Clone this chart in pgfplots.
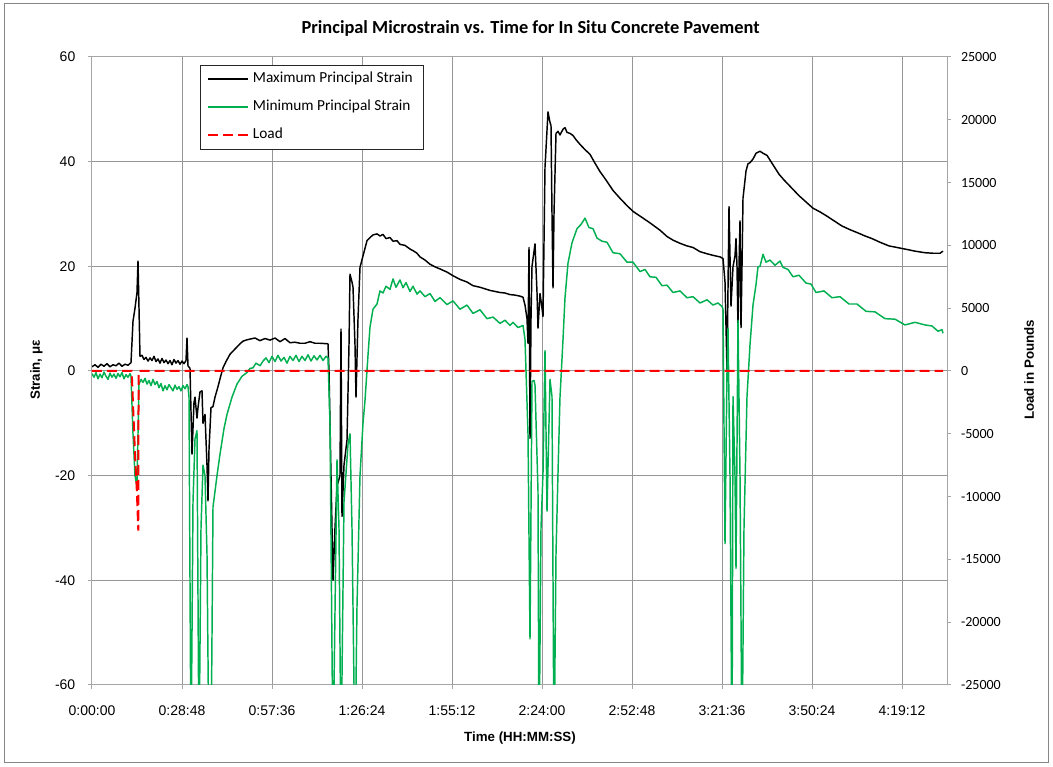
\documentclass[border=0pt]{standalone}
\usepackage{fontspec}
\setmainfont{Carlito}
\newfontfamily\arialf{Liberation Sans}
\usepackage{pgfplots}
\pgfplotsset{compat=1.18}
\definecolor{gridc}{RGB}{150,150,150}
\definecolor{axc}{RGB}{165,165,165}
\definecolor{exgreen}{RGB}{0,176,80}
\definecolor{framec}{RGB}{134,134,134}

\pgfplotstableread{
x y
0 0.8
0.96 1.2
1.92 0.7
2.88 1.3
3.84 0.9
4.8 1.4
5.76 0.8
6.72 1.2
7.68 1.0
8.64 1.5
9.6 0.9
10.56 1.3
11.52 1.1
12.48 1.6
13.12 9.5
13.76 12
14.4 15
14.72 21
15.04 12
15.36 2.8
16.0 3.0
16.64 2.2
17.28 2.6
17.92 1.9
18.56 2.5
19.2 2.0
19.84 2.8
20.48 1.8
21.12 2.3
21.76 1.5
22.4 2.4
23.04 1.6
23.68 2.1
24.32 1.4
24.96 2.0
25.6 1.2
26.24 2.2
26.88 1.5
27.52 2.0
28.16 1.3
28.8 1.9
29.44 1.4
30.08 2.0
30.4 6.3
30.72 1.0
31.36 0.5
32.0 -15.9
32.64 -6
32.96 -5
33.6 -9
33.92 -7
34.56 -4
35.2 -3.8
35.52 -10
36.16 -8.3
36.8 -18
37.12 -24.8
37.44 -15
38.08 -7
38.72 -6.8
39.36 -5
40.32 -3
40.96 -1.5
41.92 0.6
42.88 1.8
44.16 3.2
45.12 3.8
46.08 4.4
47.36 5.2
48.32 5.7
49.28 5.9
50.56 6.1
52.16 6.3
53.76 5.8
55.36 6.2
56.96 5.9
58.56 6.3
60.16 5.6
61.76 6.2
63.36 5.4
64.96 5.5
66.56 5.3
68.16 5.3
69.76 5.6
71.36 5.3
72.96 5.3
75.52 5.2
75.84 0
76.48 -20
77.12 -40
77.76 -30
78.4 -22
79.36 -20
79.68 8
80.0 -27.8
80.64 -18
81.6 -13.2
82.24 5
82.56 18.5
83.2 17
83.52 16
84.16 5
84.48 -5
85.12 10
85.76 19.8
86.72 22
88.0 24.9
88.96 25.5
89.92 26
91.2 26.2
92.16 25.8
93.12 26.1
94.08 25.3
95.36 25.5
96.32 24.8
97.6 24.9
98.56 24.2
100.16 24.0
101.76 23.3
102.72 23
104.0 22.5
104.96 21.8
106.56 21.2
108.16 20.4
109.76 19.9
111.36 19.5
113.6 18.9
115.52 18.2
117.76 17.5
120.0 17.0
121.92 16.3
124.16 16.0
125.76 15.7
127.36 15.4
128.96 15.2
130.56 15.0
132.16 14.9
133.76 14.6
135.36 14.5
136.96 14.3
137.92 14.1
138.56 12.6
139.2 10
139.52 5.3
139.84 23.6
140.16 -12.9
140.48 10
140.8 20
141.12 21.4
141.76 24.3
142.4 15
142.72 8.2
143.36 14.8
144.0 12
144.32 10.4
144.96 38.9
145.92 49.5
146.56 47.5
146.88 46.9
147.2 30
147.52 15.9
147.84 30
148.48 45.4
149.12 45.8
149.76 45.1
150.72 46.2
151.36 46.5
152.0 45.6
152.96 45.4
153.92 45.0
154.88 44.2
156.16 43.3
157.76 42.3
159.36 41.4
160.96 39.7
162.56 38.1
164.48 36.5
166.72 34.5
168.96 33.0
171.2 31.6
173.12 30.5
175.36 29.6
178.56 28.3
181.76 26.9
184.0 25.7
185.92 25
188.16 24.4
190.4 23.9
192.32 23.6
194.56 22.8
196.8 22.4
198.72 22.1
200.96 21.8
201.92 21.5
202.56 17
203.2 0.2
203.84 31.4
204.48 12.4
205.12 19.9
205.76 22
206.08 25.3
206.4 20
206.72 8.2
207.04 20
207.36 28.7
207.68 8.3
208.0 20
208.32 33
209.28 38.2
209.92 39.6
210.56 39.8
211.52 40.5
212.48 41.6
213.76 42.0
214.72 41.6
216.0 41.2
216.96 40.3
218.56 38.8
219.84 37.6
221.44 36.5
223.04 35.5
224.64 34.5
226.24 33.5
228.48 32.3
230.72 31.1
232.96 30.4
234.88 29.7
237.44 28.7
240.0 27.7
242.56 27.0
245.44 26.3
247.36 25.8
249.6 25.3
252.16 24.6
255.04 23.9
257.6 23.6
260.16 23.3
263.36 22.9
266.56 22.6
269.12 22.5
271.36 22.5
272.32 22.9
}\maxdata

\pgfplotstableread{
x y
0 -0.5
0.64 -1.2
1.28 -0.3
1.92 -1.5
2.56 -0.6
3.2 -1.3
3.84 -0.2
4.48 -1.0
5.12 -1.6
5.76 -0.4
6.4 -1.2
7.04 -0.6
7.68 -1.4
8.32 -0.5
8.96 -1.1
9.6 -0.3
10.24 -1.5
10.88 -0.7
11.52 -1.2
12.16 -0.5
12.48 -1.0
13.12 -12
13.76 -20
14.4 -22
14.72 -12
15.04 -2.5
15.68 -1.6
16.32 -2.2
16.96 -1.4
17.6 -2.5
18.24 -1.8
18.88 -2.8
19.52 -1.6
20.16 -2.6
20.8 -2.0
21.44 -3.2
22.08 -2.4
22.72 -3.8
23.36 -2.8
24.0 -3.6
24.64 -2.6
25.28 -3.2
25.92 -3.8
26.56 -2.7
27.2 -3.5
27.84 -3.0
28.48 -3.8
29.12 -2.8
29.76 -3.4
30.4 -2.6
30.72 -3
31.04 -5
31.68 -75
32.32 -25
32.96 -13
33.6 -11.4
34.24 -75
34.88 -30
35.52 -18
36.16 -20
36.8 -35
37.44 -75
38.08 -75
38.72 -26
40.0 -20
40.96 -15.9
42.24 -11
43.2 -8.3
44.8 -5
46.4 -2.5
48.0 -1.0
49.6 -0.3
50.56 0.5
51.52 0.6
52.48 1.5
53.76 1.0
54.72 1.9
55.68 2.5
56.64 1.6
57.6 2.8
58.56 1.8
59.52 3.0
60.48 1.9
61.44 2.6
62.4 1.5
63.36 2.8
64.32 2.0
65.28 3.0
66.24 1.8
67.2 2.8
68.16 2.0
69.12 3.1
70.08 1.9
71.04 2.9
72.0 2.1
72.96 3.0
73.92 2.0
74.88 2.8
75.52 2.5
76.16 -10
77.12 -75
78.4 -17
79.04 -30
79.68 -75
80.64 -25
81.28 -19.6
81.92 -14
82.56 -12
83.2 -30
84.16 -75
84.8 -45
85.76 -20
86.72 -10
87.36 -5.6
88.32 3
88.96 8.4
89.92 11.8
91.2 12.8
92.16 15.3
93.12 14.9
94.08 16.2
95.36 15.6
96.32 17.6
97.28 16.0
98.56 17.4
99.52 15.9
100.48 16.9
101.76 15.2
102.72 16.2
104.0 14.7
104.96 15.3
106.56 14.2
108.16 14.8
109.76 13.3
111.36 14.0
113.6 12.7
115.52 13.4
117.76 11.8
120.0 12.6
121.92 11.0
124.16 11.7
126.4 10.0
128.32 10.3
130.56 9.1
132.16 9.7
133.76 8.7
134.72 9.3
136.32 8.3
137.92 8.7
138.56 6
139.52 -12
140.16 -51.2
140.8 -2
141.44 -1.8
141.76 -2.7
142.72 -23
143.04 -75
143.68 -30
144.32 -19.5
144.96 3.9
145.6 -26.8
146.56 -1.6
147.2 -4.9
147.84 -75
148.48 -35
149.12 -19.5
149.76 -5
150.72 6
151.36 14
152.32 20.6
153.6 24.5
155.2 27.2
156.48 28.0
157.76 29.2
159.04 27.4
160.32 27.2
161.6 25.4
163.2 24.8
164.8 24.6
166.72 22.6
168.96 22.4
171.2 20.8
173.12 20.8
175.36 19.0
176.96 19.4
178.56 18.0
180.48 17.9
182.4 16.3
184.0 16.4
185.92 15.0
188.16 15.3
190.4 14.0
192.32 14.2
194.56 13.0
196.8 13.6
198.72 12.6
200.32 13.0
201.6 12.3
201.92 11.9
202.56 -33
203.2 0
203.52 8.2
204.16 -20
204.8 -75
205.12 -4.9
205.76 -20
206.08 -37.7
206.72 9.7
207.36 -20
208.0 -75
208.64 -30
209.6 -4.9
210.56 5
211.52 12.6
212.48 16.5
213.12 19.9
213.76 20
214.72 22.3
215.68 20.8
216.96 21.2
218.56 20.2
220.16 21.0
221.12 19.8
222.72 19.4
224.32 18.0
226.24 18.3
228.48 16.8
230.08 16.6
231.68 15.0
234.24 15.3
236.8 14.0
239.36 14.2
242.24 12.8
244.8 12.8
247.68 11.4
250.56 11.3
253.76 10.0
256.96 9.9
260.16 8.8
263.36 9.3
266.56 8.8
268.8 8.6
270.72 7.6
272.0 7.9
272.32 7.2
}\mindata

\pgfplotstableread{
x y
0 0
12.7 0
13.76 -6600
14.3 -9250
14.82 -12700
14.9 0
272.32 0
}\loaddata

\begin{document}
\begin{tikzpicture}[x=1pt,y=1pt]
\useasboundingbox (-69,-61.5) rectangle (720.75,513.75);
\draw[framec, line width=0.75pt] (-65.25,-58.5) rectangle (717,510.75);
\node[font=\fontsize{13.8}{16}\selectfont\bfseries] at (329,492.5) {Principal Microstrain vs. Time for In Situ Concrete Pavement};

\begin{axis}[
  at={(0,0)}, anchor=south west, scale only axis,
  width=641.25pt, height=471pt,
  xmin=0, xmax=273.6, ymin=-60, ymax=60,
  xtick={0,28.8,57.6,86.4,115.2,144,172.8,201.6,230.4,259.2},
  xticklabels={0:00:00,0:28:48,0:57:36,1:26:24,1:55:12,2:24:00,2:52:48,3:21:36,3:50:24,4:19:12},
  ytick={-60,-40,-20,0,20,40,60},
  xtick pos=lower, ytick pos=left,
  tick align=outside, major tick length=3pt,
  grid=major, major grid style={gridc, line width=0.75pt},
  axis line style={axc, line width=0.75pt},
  every tick/.style={axc, line width=0.75pt},
  /pgf/number format/assume math mode=true,
  ticklabel style={font=\arialf\fontsize{10.5}{12}\selectfont},
  xticklabel style={yshift=-9pt},
  yticklabel style={xshift=-6pt},
  xlabel={Time (HH:MM:SS)},
  ylabel={Strain, με},
  xlabel style={at={(axis description cs:0.5006,-0.0844)}, anchor=center, font=\arialf\bfseries\fontsize{10}{12}\selectfont},
  ylabel style={at={(axis description cs:-0.0649,0.5016)}, anchor=center, font=\arialf\bfseries\fontsize{10}{12}\selectfont},
  legend cell align=left,
  legend image code/.code={\draw[#1] (0pt,0pt) -- (30pt,0pt);},
  legend style={at={(0.1263,0.9873)}, anchor=north west, fill=white, draw=black!85,
    font=\fontsize{11.5}{13}\selectfont, inner xsep=5pt, inner ysep=0pt, row sep=0pt,
    nodes={inner xsep=3pt, inner ysep=5.25pt, text height=8pt, text depth=2.5pt}},
]
\addplot[color=black, draw=black, line width=1.1pt, line join=round] table {\maxdata};
\addlegendentry{Maximum Principal Strain}
\addplot[color=exgreen, draw=exgreen, line width=1.1pt, line join=round] table {\mindata};
\addlegendentry{Minimum Principal Strain}
\addlegendimage{color=red, draw=red, line width=1.5pt, dash pattern=on 7.5pt off 3.75pt}
\addlegendentry{Load}
\end{axis}

\begin{axis}[
  at={(0,0)}, anchor=south west, scale only axis,
  width=641.25pt, height=471pt,
  xmin=0, xmax=273.6, ymin=-25000, ymax=25000,
  hide x axis,
  ytick={-25000,-20000,...,25000},
  ytick pos=right, yticklabel pos=right,
  tick align=outside, major tick length=3pt,
  axis line style={axc, line width=0.75pt},
  every tick/.style={axc, line width=0.75pt},
  scaled y ticks=false,
  /pgf/number format/assume math mode=true,
  /pgf/number format/set thousands separator={},
  yticklabel style={font=\fontsize{10.5}{12}\selectfont, xshift=4pt},
  ylabel={Load in Pounds},
  ylabel style={at={(axis description cs:1.0959,0.5016)}, anchor=center, font=\arialf\bfseries\fontsize{10}{12}\selectfont},
]
\addplot[red, line width=1.5pt, dash pattern=on 7.5pt off 3.75pt] table {\loaddata};
\end{axis}
\end{tikzpicture}
\end{document}
